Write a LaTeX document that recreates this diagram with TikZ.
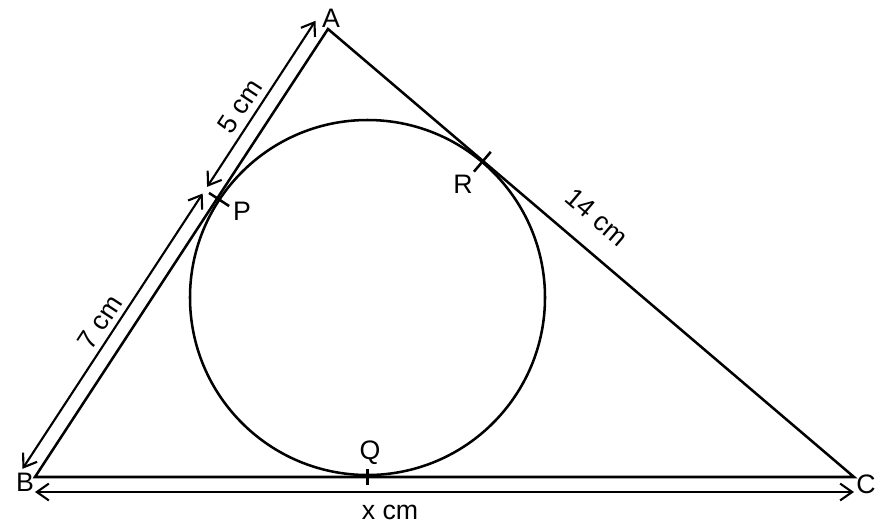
\documentclass[tikz,border=0pt]{standalone}
\usepackage{fontspec}
\setmainfont{Liberation Sans}
\usepackage{tikz}
\usetikzlibrary{arrows.meta}
\usetikzlibrary{calc}

\begin{document}
\begin{tikzpicture}[x=0.025cm,y=-0.025cm]
\tikzset{>={Straight Barb[length=3mm,width=4.2mm]}}
\tikzstyle{lbl} =[inner sep=0pt,font=\fontsize{19}{21}\selectfont]
\tikzstyle{tick} =[line width=1.8pt]
\tikzstyle{dim} =[<->,line width=1.5pt]

\useasboundingbox (0,0) rectangle (890,529);

\coordinate (A) at (328,29);
\coordinate (B) at (35,477);
\coordinate (C) at (854,477);
\coordinate (O) at (367.5,297.5);
\coordinate (P) at (217.4,198.4);
\coordinate (R) at (483,161);
\coordinate (Q) at (367.5,477);

% triangle and circle
\draw[line width=1.8pt,line join=miter] (A) -- (B) -- (C) -- cycle;
\draw[line width=1.8pt] (O) circle[radius=177.5];

% tangent points
\draw[tick] ($(P)!0.25cm!90:(A)$) -- ($(P)!0.35cm!-90:(A)$);
\draw[tick] ($(R)!0.3cm!90:(C)$) -- ($(R)!0.35cm!-90:(C)$);
\draw[tick] ($(Q)!0.2cm!90:(C)$) -- ($(Q)!0.2cm!-90:(C)$);

% measures
\coordinate (a1) at ($(A)+(-12.5,-8.2)$);
\coordinate (p1) at ($(P)+(-12.5,-8.2)+(2.2,-3.3)$);
\coordinate (p2) at ($(P)+(-12.5,-8.2)+(-2.2,3.3)$);
\coordinate (b1) at ($(B)+(-12.5,-8.2)$);
\coordinate (b2) at (35,492);
\coordinate (c2) at (854,492);
\draw[dim] (p1) -- (a1);
\draw[dim] (p2) -- (b1);
\draw[dim] (b2) -- (c2);

\node[lbl](lA) at (331,18){A};
\node[lbl](lB) at (25,482){B};
\node[lbl](lC) at (866,484){C};
\node[lbl](lP) at (242,211){P};
\node[lbl](lR) at (463,184){R};
\node[lbl](lQ) at (370,453){Q};
\node[lbl](lx) at (390,512){x cm};
\node[lbl,rotate=56.8](l5) at (240,106){5 cm};
\node[lbl,rotate=56.8](l7) at (100,322){7 cm};
\node[lbl,rotate=-40.5](l14) at (597,217){14 cm};
\end{tikzpicture}
\end{document}
